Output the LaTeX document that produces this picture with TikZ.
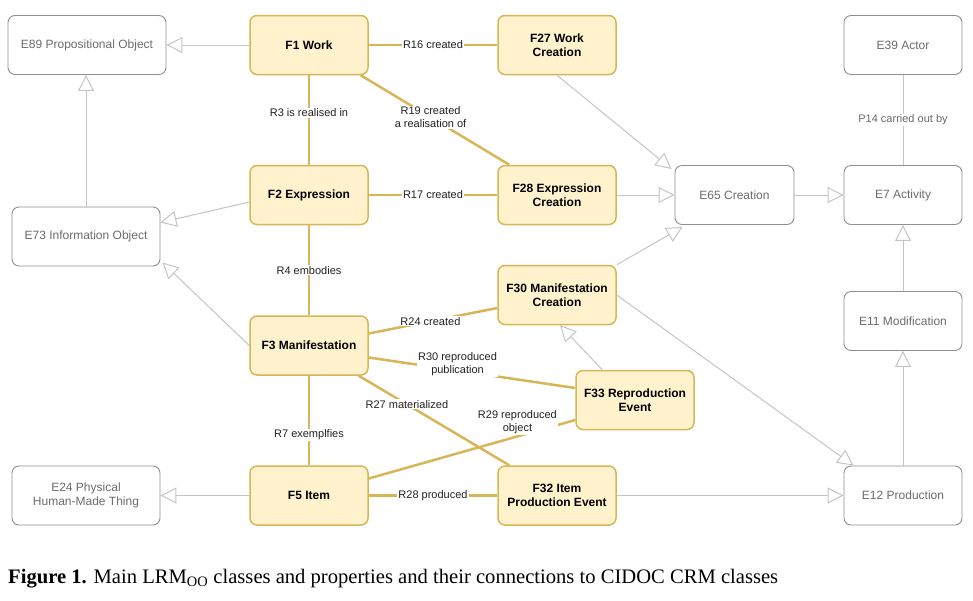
\documentclass[tikz,border=0pt]{standalone}
\usepackage{graphicx}
\usepackage{fontspec}
\setmainfont{Liberation Sans}
\newfontfamily\capfont{Liberation Serif}
\usetikzlibrary{arrows.meta}
\definecolor{goldfill}{HTML}{FFF2CC}
\definecolor{goldline}{HTML}{D6B656}
\definecolor{grayline}{HTML}{C4C4C4}
\definecolor{graybox}{HTML}{8F8F8F}
\definecolor{graytext}{HTML}{6B6B6B}
\definecolor{labeltext}{HTML}{222222}
\begin{document}
\begin{tikzpicture}[x=1pt,y=-1pt,
  lrm/.style={draw=goldline, fill=goldfill, line width=1.5pt, rounded corners=7pt,
    minimum width=118pt, minimum height=59pt, inner sep=2pt, align=center, text=black,
    font=\fontsize{12}{14.5}\selectfont\bfseries},
  crm/.style={draw=graybox, line width=0.9pt, rounded corners=7pt,
    minimum width=118pt, minimum height=59pt, inner sep=2pt, align=center, text=graytext,
    font=\fontsize{12}{14.5}\selectfont},
  gen/.style={draw=grayline, line width=1pt, -{Triangle[open,length=16pt,width=16pt]}},
  assoc/.style={draw=grayline, line width=1pt},
  rel/.style={draw=goldline, line width=2.5pt},
  lab/.style={fill=white, inner sep=1pt, align=center, text=labeltext,
    font=\fontsize{11}{13}\selectfont},
]
\useasboundingbox (0,0) rectangle (973,600);

% nodes
\node[crm, minimum width=158pt] (E89) at (87,45) {E89 Propositional Object};
\node[lrm] (F1) at (309,45) {F1 Work};
\node[lrm] (F27) at (557,45) {F27 Work\\Creation};
\node[crm] (E39) at (903,45) {E39 Actor};
\node[lrm] (F2) at (309,195) {F2 Expression};
\node[lrm] (F28) at (557,195) {F28 Expression\\Creation};
\node[crm, minimum width=119pt] (E65) at (734.5,195) {E65 Creation};
\node[crm] (E7) at (903,195) {E7 Activity};
\node[crm, minimum width=148pt] (E73) at (86,236.5) {E73 Information Object};
\node[lrm] (F30) at (557,295) {F30 Manifestation\\Creation};
\node[crm] (E11) at (903,321) {E11 Modification};
\node[lrm] (F3) at (309,345.5) {F3 Manifestation};
\node[lrm] (F33) at (635,400) {F33 Reproduction\\Event};
\node[crm, minimum width=148pt] (E24) at (86,495.5) {E24 Physical\\Human-Made Thing};
\node[lrm] (F5) at (309,495.5) {F5 Item};
\node[lrm] (F32) at (557,495.5) {F32 Item\\Production Event};
\node[crm] (E12) at (903,495.5) {E12 Production};

% CRM generalisations
\draw[gen] (F1) -- (E89);
\draw[gen] (E73.north) -- (E73.north |- E89.south);
\draw[gen] ([yshift=-7pt]F2.west) -- ([yshift=14pt]E73.east);
\draw[gen] (F3.west) -- ([shift={(2pt,4pt)}]E73.south east);
\draw[gen] (F5) -- (E24);
\draw[gen] (F27.south) -- ([shift={(-3pt,-4pt)}]E65.north west);
\draw[gen] (F28) -- (E65);
\draw[gen] (F30.north east) -- ([shift={(8pt,-2pt)}]E65.south west);
\draw[gen] (E65) -- (E7);
\draw[gen] (E11) -- (E7);
\draw[gen] (E12) -- (E11);
\draw[assoc] (E39) -- node[lab, text=graytext]{P14 carried out by} (E7);
\draw[gen] ([xshift=27pt]F33.north west) -- ([xshift=3pt]F30.south);
\draw[gen] (F30.east) -- ([xshift=10pt]E12.north west);
\draw[gen] (F32) -- (E12);

% LRM relations
\draw[rel] (F1) -- node[lab]{R16 created} (F27);
\draw[rel] (F1) -- node[lab, pos=0.42]{R3 is realised in} (F2);
\draw[rel] ([xshift=-8pt]F1.south east) -- node[lab, pos=0.47]{R19 created\\a realisation of} ([xshift=12pt]F28.north west);
\draw[rel] (F2) -- node[lab]{R17 created} (F28);
\draw[rel] (F2) -- node[lab]{R4 embodies} (F3);
\draw[rel] ([yshift=12pt]F3.east) -- node[lab, pos=0.48]{R24 created} ([yshift=-13pt]F30.west);
\draw[rel] ([yshift=-12pt]F3.east) -- node[lab, pos=0.43, yshift=6pt]{R30 reproduced\\publication} ([yshift=12pt]F33.west);
\draw[rel] ([xshift=-10pt]F3.south east) -- node[lab, pos=0.32]{R27 materialized} ([xshift=12pt]F32.north west);
\draw[rel] (F3) -- node[lab, pos=0.66]{R7 exemplfies} (F5);
\draw[rel] ([yshift=17pt]F5.east) -- node[lab, pos=0.72, yshift=14pt]{R29 reproduced\\object} ([yshift=-20pt]F33.west);
\draw[rel] (F5) -- node[lab]{R28 produced} (F32);

% caption
\node[anchor=base west, inner sep=0pt] (cap) at (8,583)
  {\resizebox{770pt}{!}{\capfont\fontsize{20}{24}\selectfont\textbf{Figure 1.} Main LRM\textsubscript{OO} classes and properties and their connections to CIDOC CRM classes}};
\end{tikzpicture}
\end{document}
